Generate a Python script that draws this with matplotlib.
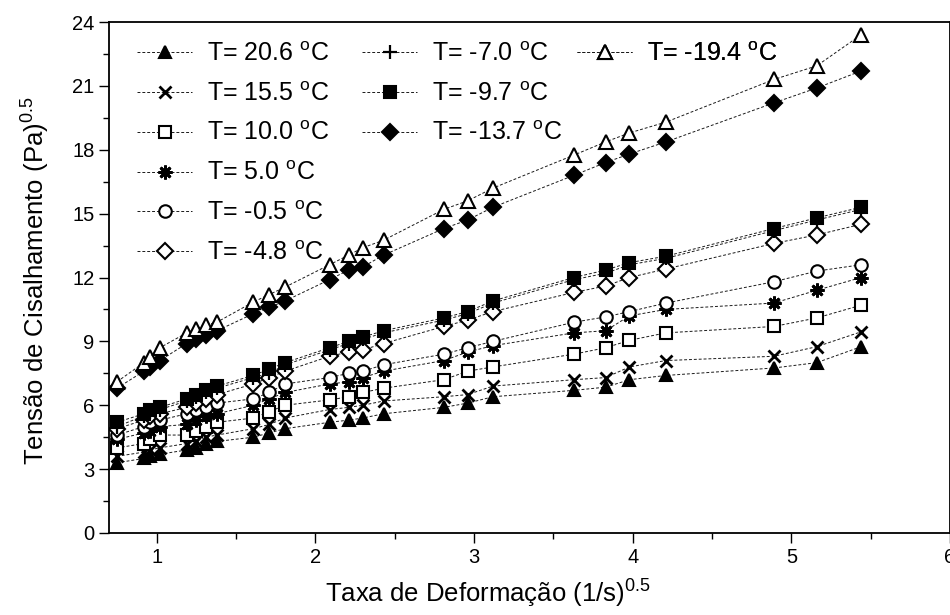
import matplotlib
matplotlib.use("Agg")
import matplotlib.pyplot as plt
from matplotlib.ticker import MultipleLocator

plt.rcParams["font.family"] = ["Liberation Sans", "DejaVu Sans"]
plt.rcParams["mathtext.default"] = "regular"

# square root of shear rate, (1/s)^0.5
taxa = [0.75, 0.92, 0.96, 1.02, 1.19, 1.25, 1.31, 1.38, 1.61, 1.71, 1.81,
        2.09, 2.21, 2.30, 2.43, 2.81, 2.96, 3.12, 3.63, 3.83, 3.98, 4.21,
        4.89, 5.16, 5.44]

# square root of shear stress, (Pa)^0.5, one list per temperature
t_20_6 = [3.3, 3.5, 3.6, 3.7, 3.9, 4.0, 4.2, 4.3, 4.5, 4.7, 4.9,
          5.2, 5.3, 5.4, 5.6, 5.9, 6.1, 6.4, 6.7, 6.85, 7.2, 7.4,
          7.75, 8.0, 8.75]
t_15_5 = [3.6, 3.8, 3.9, 4.0, 4.2, 4.3, 4.5, 4.6, 4.9, 5.1, 5.4,
          5.8, 5.9, 6.0, 6.2, 6.4, 6.5, 6.9, 7.2, 7.3, 7.8, 8.1,
          8.3, 8.75, 9.45]
t_10_0 = [4.0, 4.2, 4.4, 4.6, 4.6, 4.8, 5.0, 5.2, 5.4, 5.7, 6.0,
          6.25, 6.4, 6.6, 6.8, 7.2, 7.6, 7.8, 8.4, 8.7, 9.05, 9.4,
          9.7, 10.1, 10.7]
t_5_0 = [4.4, 4.7, 4.8, 5.0, 5.1, 5.3, 5.5, 5.6, 6.0, 6.3, 6.6,
         7.0, 7.1, 7.3, 7.6, 8.1, 8.5, 8.8, 9.4, 9.5, 10.2, 10.5,
         10.8, 11.4, 12.0]
t_m0_5 = [4.6, 5.0, 5.2, 5.3, 5.6, 5.8, 5.9, 6.1, 6.3, 6.6, 7.0,
          7.3, 7.5, 7.6, 7.9, 8.4, 8.7, 9.0, 9.9, 10.15, 10.4, 10.8,
          11.8, 12.3, 12.6]
t_m4_8 = [4.9, 5.3, 5.5, 5.6, 5.9, 6.1, 6.3, 6.5, 7.0, 7.3, 7.6,
          8.3, 8.5, 8.6, 8.9, 9.7, 10.0, 10.4, 11.3, 11.6, 12.0, 12.4,
          13.6, 14.0, 14.5]
t_m7_0 = [5.0, 5.5, 5.7, 5.8, 6.2, 6.4, 6.6, 6.8, 7.3, 7.5, 7.9,
          8.6, 8.9, 9.1, 9.4, 10.0, 10.3, 10.8, 11.9, 12.2, 12.6, 12.9,
          14.2, 14.7, 15.2]
t_m9_7 = [5.2, 5.6, 5.8, 5.9, 6.3, 6.5, 6.7, 6.9, 7.4, 7.7, 8.0,
          8.7, 9.0, 9.2, 9.5, 10.1, 10.4, 10.9, 12.0, 12.35, 12.7, 13.0,
          14.3, 14.8, 15.3]
t_m13_7 = [6.8, 7.6, 7.8, 8.1, 8.9, 9.1, 9.3, 9.5, 10.3, 10.6, 10.9,
           11.9, 12.35, 12.5, 13.05, 14.3, 14.7, 15.3, 16.8, 17.4, 17.8, 18.37,
           20.2, 20.9, 21.7]
t_m19_4 = [7.1, 8.0, 8.27, 8.7, 9.4, 9.6, 9.77, 9.9, 10.85, 11.2, 11.55,
           12.6, 13.05, 13.4, 13.75, 15.2, 15.6, 16.2, 17.75, 18.37, 18.79, 19.3,
           21.3, 21.94, 23.4]

labels = ["T= 20.6 $^{o}$C", "T= 15.5 $^{o}$C", "T= 10.0 $^{o}$C",
          "T= 5.0 $^{o}$C", "T= -0.5 $^{o}$C", "T= -4.8 $^{o}$C",
          "T= -7.0 $^{o}$C", "T= -9.7 $^{o}$C", "T= -13.7 $^{o}$C",
          "T= -19.4 $^{o}$C"]
series = [t_20_6, t_15_5, t_10_0, t_5_0, t_m0_5, t_m4_8,
          t_m7_0, t_m9_7, t_m13_7, t_m19_4]

styles = [
    dict(marker="^", mfc="black", ms=9),
    dict(marker="x", mfc="none", ms=9, mew=2.0),
    dict(marker="s", mfc="white", ms=8),
    dict(marker=(8, 2, 0), mfc="black", ms=10, mew=2.0),
    dict(marker="o", mfc="white", ms=9),
    dict(marker="D", mfc="white", ms=8),
    dict(marker="+", mfc="none", ms=10, mew=1.6),
    dict(marker="s", mfc="black", ms=8),
    dict(marker="D", mfc="black", ms=8),
    dict(marker="^", mfc="white", ms=10),
]

fig = plt.figure(figsize=(9.5, 6.15), dpi=100)
W, H = 950.0, 615.0
x_left_px, x_right_px = 109.0, 950.0
y_top_px, y_bot_px = 22.0, 533.0
ax = fig.add_axes([x_left_px / W, 1 - y_bot_px / H,
                   (x_right_px - x_left_px) / W, (y_bot_px - y_top_px) / H])

handles = []
for y, lab, st in zip(series, labels, styles):
    st = dict(st)
    st.setdefault("mew", 1.5)
    (h,) = ax.plot(taxa, y, color="#1a1a1a", lw=0.7, ls=(0, (3, 2)),
                   mec="black", label=lab, **st)
    handles.append(h)

ax.set_xlim(0.7, 6.0)
ax.set_ylim(0, 24)
ax.xaxis.set_major_locator(MultipleLocator(1))
ax.xaxis.set_minor_locator(MultipleLocator(0.5))
ax.yaxis.set_major_locator(MultipleLocator(3))
ax.yaxis.set_minor_locator(MultipleLocator(1.5))
ax.tick_params(which="both", direction="out", top=False, right=False,
               width=1.0, labelsize=14.5)
ax.tick_params(which="major", length=7)
ax.tick_params(which="minor", length=4)
for sp in ax.spines.values():
    sp.set_linewidth(1.3)

ax.set_xlabel("Taxa de Deformação (1/s)$^{0.5}$", fontsize=18.5)
ax.xaxis.set_label_coords(0.45, -0.088)
ax.set_ylabel("Tensão de Cisalhamento (Pa)$^{0.5}$", fontsize=18.5)
ax.yaxis.set_label_coords(-0.068, 0.493)

# legend laid out in three columns of 6, 3 and 1 entries
leg_kw = dict(frameon=False, fontsize=18, labelspacing=0.63,
              handlelength=2.2, handletextpad=0.6, borderpad=0,
              borderaxespad=0, loc="upper left",
              bbox_transform=fig.transFigure)
groups = [(handles[0:6], 137), (handles[6:9], 362), (handles[9:10], 577)]
for hs, xpx in groups:
    lg = ax.legend(hs, [h.get_label() for h in hs],
                   bbox_to_anchor=(xpx / W, 1 - 42 / H), **leg_kw)
    ax.add_artist(lg)

fig.savefig("out.png", dpi=100)
